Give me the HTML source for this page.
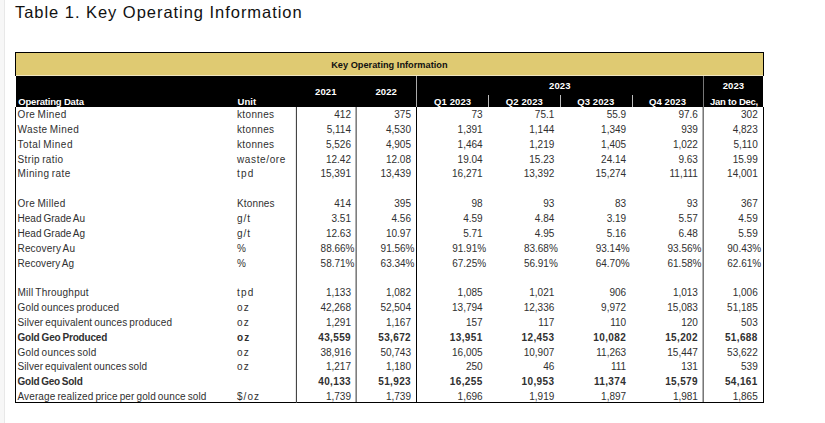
<!DOCTYPE html>
<html><head><meta charset="utf-8"><style>
html,body{margin:0;padding:0;background:#fff;}
body{width:825px;height:423px;position:relative;overflow:hidden;font-family:"Liberation Sans",sans-serif;}
.a{position:absolute;}
.t{position:absolute;white-space:pre;line-height:0;height:0;}
.t.r{text-align:right;}
.t.c{text-align:center;}
.body{font-size:10px;color:#303030;letter-spacing:0.45px;}
.lab{letter-spacing:0.12px;word-spacing:-0.9px;}
.labb{font-weight:bold;letter-spacing:-0.2px;word-spacing:-0.6px;}
.unit{letter-spacing:0.25px;}
.unit.b{font-weight:bold;}
.num{letter-spacing:0.0px;}
.numb{font-weight:bold;letter-spacing:0.36px;}
.hd{font-size:9.5px;font-weight:bold;color:#fff;letter-spacing:0.1px;}
.hk{font-size:9.2px;font-weight:bold;color:#111;letter-spacing:0.02px;}
.title{font-size:16.5px;color:#111;letter-spacing:0.96px;}
</style></head><body>
<div class="a" style="left:0;top:0;width:4px;height:423px;background:#f7f7f7;"></div>
<div class="a" style="left:4px;top:0;width:1px;height:423px;background:#e8e8e8;"></div>
<div class="t title" style="left:15.00px;top:11.80px;">Table 1. Key Operating Information</div>
<div class="a" style="left:15px;top:52px;width:749px;height:24px;background:#000;"></div>
<div class="a" style="left:16px;top:53px;width:747px;height:22px;background:#dfca72;"></div>
<div class="a" style="left:16px;top:75px;width:747px;height:1px;background:#f0e6c0;"></div>
<div class="a" style="left:16px;top:76px;width:747px;height:31px;background:#000;"></div>
<div class="a" style="left:15px;top:107px;width:1px;height:296px;background:#000;"></div>
<div class="a" style="left:763px;top:107px;width:1px;height:296px;background:#000;"></div>
<div class="a" style="left:15px;top:402px;width:749px;height:1px;background:#000;"></div>
<div class="a" style="left:296px;top:107px;width:1px;height:296px;background:#454545;"></div>
<div class="a" style="left:295px;top:107px;width:1px;height:295px;background:#e8e8e8;"></div>
<div class="a" style="left:355px;top:107px;width:1px;height:295px;background:#b0b0b0;"></div>
<div class="a" style="left:356px;top:107px;width:1px;height:295px;background:#7e7e7e;"></div>
<div class="a" style="left:416px;top:107px;width:1px;height:296px;background:#000;"></div>
<div class="a" style="left:416px;top:76px;width:1px;height:31px;background:#aaa;"></div>
<div class="a" style="left:703px;top:76px;width:1px;height:326px;background:#777;"></div>
<div class="a" style="left:702px;top:107px;width:1px;height:295px;background:#b4b4b4;"></div>
<div class="a" style="left:488px;top:95px;width:1px;height:12px;background:#bbb;"></div>
<div class="a" style="left:560px;top:95px;width:1px;height:12px;background:#bbb;"></div>
<div class="a" style="left:632px;top:95px;width:1px;height:12px;background:#bbb;"></div>
<div class="t hk c" style="left:239.40px;width:300px;top:65.20px;">Key Operating Information</div>
<div class="t hd c" style="left:175.80px;width:300px;top:91.50px;">2021</div>
<div class="t hd c" style="left:236.20px;width:300px;top:91.50px;">2022</div>
<div class="t hd c" style="left:409.80px;width:300px;top:85.50px;">2023</div>
<div class="t hd c" style="left:583.50px;width:300px;top:85.50px;">2023</div>
<div class="t hd" style="left:18.30px;top:101.70px;letter-spacing:-0.19px">Operating Data</div>
<div class="t hd" style="left:237.50px;top:101.70px;">Unit</div>
<div class="t hd c" style="left:302.60px;width:300px;top:101.70px;">Q1 2023</div>
<div class="t hd c" style="left:374.40px;width:300px;top:101.70px;">Q2 2023</div>
<div class="t hd c" style="left:445.80px;width:300px;top:101.70px;">Q3 2023</div>
<div class="t hd c" style="left:517.50px;width:300px;top:101.70px;">Q4 2023</div>
<div class="t hd c" style="left:584.00px;width:300px;top:101.70px;letter-spacing:-0.25px">Jan to Dec,</div>
<div class="t body lab" style="left:17.50px;top:115.10px;letter-spacing:0.370px">Ore Mined</div>
<div class="t body unit" style="left:237.00px;top:115.10px;letter-spacing:0.349px">ktonnes</div>
<div class="t body num r" style="right:474.00px;top:115.10px;">412</div>
<div class="t body num r" style="right:414.00px;top:115.10px;">375</div>
<div class="t body num r" style="right:342.40px;top:115.10px;">73</div>
<div class="t body num r" style="right:270.70px;top:115.10px;">75.1</div>
<div class="t body num r" style="right:198.90px;top:115.10px;">55.9</div>
<div class="t body num r" style="right:127.10px;top:115.10px;">97.6</div>
<div class="t body num r" style="right:67.30px;top:115.10px;">302</div>
<div class="t body lab" style="left:17.50px;top:129.94px;letter-spacing:0.420px">Waste Mined</div>
<div class="t body unit" style="left:237.00px;top:129.94px;letter-spacing:0.349px">ktonnes</div>
<div class="t body num r" style="right:474.00px;top:129.94px;">5,114</div>
<div class="t body num r" style="right:414.00px;top:129.94px;">4,530</div>
<div class="t body num r" style="right:342.40px;top:129.94px;">1,391</div>
<div class="t body num r" style="right:270.70px;top:129.94px;">1,144</div>
<div class="t body num r" style="right:198.90px;top:129.94px;">1,349</div>
<div class="t body num r" style="right:127.10px;top:129.94px;">939</div>
<div class="t body num r" style="right:67.30px;top:129.94px;">4,823</div>
<div class="t body lab" style="left:17.50px;top:144.78px;letter-spacing:0.470px">Total Mined</div>
<div class="t body unit" style="left:237.00px;top:144.78px;letter-spacing:0.349px">ktonnes</div>
<div class="t body num r" style="right:474.00px;top:144.78px;">5,526</div>
<div class="t body num r" style="right:414.00px;top:144.78px;">4,905</div>
<div class="t body num r" style="right:342.40px;top:144.78px;">1,464</div>
<div class="t body num r" style="right:270.70px;top:144.78px;">1,219</div>
<div class="t body num r" style="right:198.90px;top:144.78px;">1,405</div>
<div class="t body num r" style="right:127.10px;top:144.78px;">1,022</div>
<div class="t body num r" style="right:67.30px;top:144.78px;">5,110</div>
<div class="t body lab" style="left:17.50px;top:159.62px;letter-spacing:0.370px">Strip ratio</div>
<div class="t body unit" style="left:237.00px;top:159.62px;letter-spacing:0.625px">waste/ore</div>
<div class="t body num r" style="right:474.00px;top:159.62px;">12.42</div>
<div class="t body num r" style="right:414.00px;top:159.62px;">12.08</div>
<div class="t body num r" style="right:342.40px;top:159.62px;">19.04</div>
<div class="t body num r" style="right:270.70px;top:159.62px;">15.23</div>
<div class="t body num r" style="right:198.90px;top:159.62px;">24.14</div>
<div class="t body num r" style="right:127.10px;top:159.62px;">9.63</div>
<div class="t body num r" style="right:67.30px;top:159.62px;">15.99</div>
<div class="t body lab" style="left:17.50px;top:174.46px;letter-spacing:0.420px">Mining rate</div>
<div class="t body unit" style="left:237.00px;top:174.46px;letter-spacing:1.250px">tpd</div>
<div class="t body num r" style="right:474.00px;top:174.46px;">15,391</div>
<div class="t body num r" style="right:414.00px;top:174.46px;">13,439</div>
<div class="t body num r" style="right:342.40px;top:174.46px;">16,271</div>
<div class="t body num r" style="right:270.70px;top:174.46px;">13,392</div>
<div class="t body num r" style="right:198.90px;top:174.46px;">15,274</div>
<div class="t body num r" style="right:127.10px;top:174.46px;">11,111</div>
<div class="t body num r" style="right:67.30px;top:174.46px;">14,001</div>
<div class="t body lab" style="left:17.50px;top:204.14px;letter-spacing:0.342px">Ore Milled</div>
<div class="t body unit" style="left:237.00px;top:204.14px;letter-spacing:0.148px">Ktonnes</div>
<div class="t body num r" style="right:474.00px;top:204.14px;">414</div>
<div class="t body num r" style="right:414.00px;top:204.14px;">395</div>
<div class="t body num r" style="right:342.40px;top:204.14px;">98</div>
<div class="t body num r" style="right:270.70px;top:204.14px;">93</div>
<div class="t body num r" style="right:198.90px;top:204.14px;">83</div>
<div class="t body num r" style="right:127.10px;top:204.14px;">93</div>
<div class="t body num r" style="right:67.30px;top:204.14px;">367</div>
<div class="t body lab" style="left:17.50px;top:218.98px;letter-spacing:0.033px">Head Grade Au</div>
<div class="t body unit" style="left:237.00px;top:218.98px;letter-spacing:0.950px">g/t</div>
<div class="t body num r" style="right:474.00px;top:218.98px;">3.51</div>
<div class="t body num r" style="right:414.00px;top:218.98px;">4.56</div>
<div class="t body num r" style="right:342.40px;top:218.98px;">4.59</div>
<div class="t body num r" style="right:270.70px;top:218.98px;">4.84</div>
<div class="t body num r" style="right:198.90px;top:218.98px;">3.19</div>
<div class="t body num r" style="right:127.10px;top:218.98px;">5.57</div>
<div class="t body num r" style="right:67.30px;top:218.98px;">4.59</div>
<div class="t body lab" style="left:17.50px;top:233.82px;letter-spacing:0.037px">Head Grade Ag</div>
<div class="t body unit" style="left:237.00px;top:233.82px;letter-spacing:0.950px">g/t</div>
<div class="t body num r" style="right:474.00px;top:233.82px;">12.63</div>
<div class="t body num r" style="right:414.00px;top:233.82px;">10.97</div>
<div class="t body num r" style="right:342.40px;top:233.82px;">5.71</div>
<div class="t body num r" style="right:270.70px;top:233.82px;">4.95</div>
<div class="t body num r" style="right:198.90px;top:233.82px;">5.16</div>
<div class="t body num r" style="right:127.10px;top:233.82px;">6.48</div>
<div class="t body num r" style="right:67.30px;top:233.82px;">5.59</div>
<div class="t body lab" style="left:17.50px;top:248.66px;letter-spacing:0.170px">Recovery Au</div>
<div class="t body unit" style="left:237.00px;top:248.66px;letter-spacing:0.000px">%</div>
<div class="t body num r" style="right:470.50px;top:248.66px;">88.66%</div>
<div class="t body num r" style="right:410.50px;top:248.66px;">91.56%</div>
<div class="t body num r" style="right:338.90px;top:248.66px;">91.91%</div>
<div class="t body num r" style="right:267.20px;top:248.66px;">83.68%</div>
<div class="t body num r" style="right:195.40px;top:248.66px;">93.14%</div>
<div class="t body num r" style="right:123.60px;top:248.66px;">93.56%</div>
<div class="t body num r" style="right:63.80px;top:248.66px;">90.43%</div>
<div class="t body lab" style="left:17.50px;top:263.50px;letter-spacing:0.070px">Recovery Ag</div>
<div class="t body unit" style="left:237.00px;top:263.50px;letter-spacing:0.000px">%</div>
<div class="t body num r" style="right:470.50px;top:263.50px;">58.71%</div>
<div class="t body num r" style="right:410.50px;top:263.50px;">63.34%</div>
<div class="t body num r" style="right:338.90px;top:263.50px;">67.25%</div>
<div class="t body num r" style="right:267.20px;top:263.50px;">56.91%</div>
<div class="t body num r" style="right:195.40px;top:263.50px;">64.70%</div>
<div class="t body num r" style="right:123.60px;top:263.50px;">61.58%</div>
<div class="t body num r" style="right:63.80px;top:263.50px;">62.61%</div>
<div class="t body lab" style="left:17.50px;top:293.18px;letter-spacing:0.227px">Mill Throughput</div>
<div class="t body unit" style="left:237.00px;top:293.18px;letter-spacing:1.250px">tpd</div>
<div class="t body num r" style="right:474.00px;top:293.18px;">1,133</div>
<div class="t body num r" style="right:414.00px;top:293.18px;">1,082</div>
<div class="t body num r" style="right:342.40px;top:293.18px;">1,085</div>
<div class="t body num r" style="right:270.70px;top:293.18px;">1,021</div>
<div class="t body num r" style="right:198.90px;top:293.18px;">906</div>
<div class="t body num r" style="right:127.10px;top:293.18px;">1,013</div>
<div class="t body num r" style="right:67.30px;top:293.18px;">1,006</div>
<div class="t body lab" style="left:17.50px;top:308.02px;letter-spacing:0.148px">Gold ounces produced</div>
<div class="t body unit" style="left:237.00px;top:308.02px;letter-spacing:1.250px">oz</div>
<div class="t body num r" style="right:474.00px;top:308.02px;">42,268</div>
<div class="t body num r" style="right:414.00px;top:308.02px;">52,504</div>
<div class="t body num r" style="right:342.40px;top:308.02px;">13,794</div>
<div class="t body num r" style="right:270.70px;top:308.02px;">12,336</div>
<div class="t body num r" style="right:198.90px;top:308.02px;">9,972</div>
<div class="t body num r" style="right:127.10px;top:308.02px;">15,083</div>
<div class="t body num r" style="right:67.30px;top:308.02px;">51,185</div>
<div class="t body lab" style="left:17.50px;top:322.86px;letter-spacing:0.134px">Silver equivalent ounces produced</div>
<div class="t body unit" style="left:237.00px;top:322.86px;letter-spacing:1.250px">oz</div>
<div class="t body num r" style="right:474.00px;top:322.86px;">1,291</div>
<div class="t body num r" style="right:414.00px;top:322.86px;">1,167</div>
<div class="t body num r" style="right:342.40px;top:322.86px;">157</div>
<div class="t body num r" style="right:270.70px;top:322.86px;">117</div>
<div class="t body num r" style="right:198.90px;top:322.86px;">110</div>
<div class="t body num r" style="right:127.10px;top:322.86px;">120</div>
<div class="t body num r" style="right:67.30px;top:322.86px;">503</div>
<div class="t body labb" style="left:17.50px;top:337.70px;letter-spacing:-0.182px">Gold Geo Produced</div>
<div class="t body unit b" style="left:237.00px;top:337.70px;letter-spacing:1.250px">oz</div>
<div class="t body numb r" style="right:474.00px;top:337.70px;">43,559</div>
<div class="t body numb r" style="right:414.00px;top:337.70px;">53,672</div>
<div class="t body numb r" style="right:342.40px;top:337.70px;">13,951</div>
<div class="t body numb r" style="right:270.70px;top:337.70px;">12,453</div>
<div class="t body numb r" style="right:198.90px;top:337.70px;">10,082</div>
<div class="t body numb r" style="right:127.10px;top:337.70px;">15,202</div>
<div class="t body numb r" style="right:67.30px;top:337.70px;">51,688</div>
<div class="t body lab" style="left:17.50px;top:352.54px;letter-spacing:0.221px">Gold ounces sold</div>
<div class="t body unit" style="left:237.00px;top:352.54px;letter-spacing:1.250px">oz</div>
<div class="t body num r" style="right:474.00px;top:352.54px;">38,916</div>
<div class="t body num r" style="right:414.00px;top:352.54px;">50,743</div>
<div class="t body num r" style="right:342.40px;top:352.54px;">16,005</div>
<div class="t body num r" style="right:270.70px;top:352.54px;">10,907</div>
<div class="t body num r" style="right:198.90px;top:352.54px;">11,263</div>
<div class="t body num r" style="right:127.10px;top:352.54px;">15,447</div>
<div class="t body num r" style="right:67.30px;top:352.54px;">53,622</div>
<div class="t body lab" style="left:17.50px;top:367.38px;letter-spacing:0.099px">Silver equivalent ounces sold</div>
<div class="t body unit" style="left:237.00px;top:367.38px;letter-spacing:1.250px">oz</div>
<div class="t body num r" style="right:474.00px;top:367.38px;">1,217</div>
<div class="t body num r" style="right:414.00px;top:367.38px;">1,180</div>
<div class="t body num r" style="right:342.40px;top:367.38px;">250</div>
<div class="t body num r" style="right:270.70px;top:367.38px;">46</div>
<div class="t body num r" style="right:198.90px;top:367.38px;">111</div>
<div class="t body num r" style="right:127.10px;top:367.38px;">131</div>
<div class="t body num r" style="right:67.30px;top:367.38px;">539</div>
<div class="t body labb" style="left:17.50px;top:382.22px;letter-spacing:-0.250px">Gold Geo Sold</div>
<div class="t body numb r" style="right:474.00px;top:382.22px;">40,133</div>
<div class="t body numb r" style="right:414.00px;top:382.22px;">51,923</div>
<div class="t body numb r" style="right:342.40px;top:382.22px;">16,255</div>
<div class="t body numb r" style="right:270.70px;top:382.22px;">10,953</div>
<div class="t body numb r" style="right:198.90px;top:382.22px;">11,374</div>
<div class="t body numb r" style="right:127.10px;top:382.22px;">15,579</div>
<div class="t body numb r" style="right:67.30px;top:382.22px;">54,161</div>
<div class="t body lab" style="left:17.50px;top:397.06px;letter-spacing:0.120px">Average realized price per gold ounce sold</div>
<div class="t body unit" style="left:237.00px;top:397.06px;letter-spacing:1.052px">$/oz</div>
<div class="t body num r" style="right:474.00px;top:397.06px;">1,739</div>
<div class="t body num r" style="right:414.00px;top:397.06px;">1,739</div>
<div class="t body num r" style="right:342.40px;top:397.06px;">1,696</div>
<div class="t body num r" style="right:270.70px;top:397.06px;">1,919</div>
<div class="t body num r" style="right:198.90px;top:397.06px;">1,897</div>
<div class="t body num r" style="right:127.10px;top:397.06px;">1,981</div>
<div class="t body num r" style="right:67.30px;top:397.06px;">1,865</div>
</body></html>
